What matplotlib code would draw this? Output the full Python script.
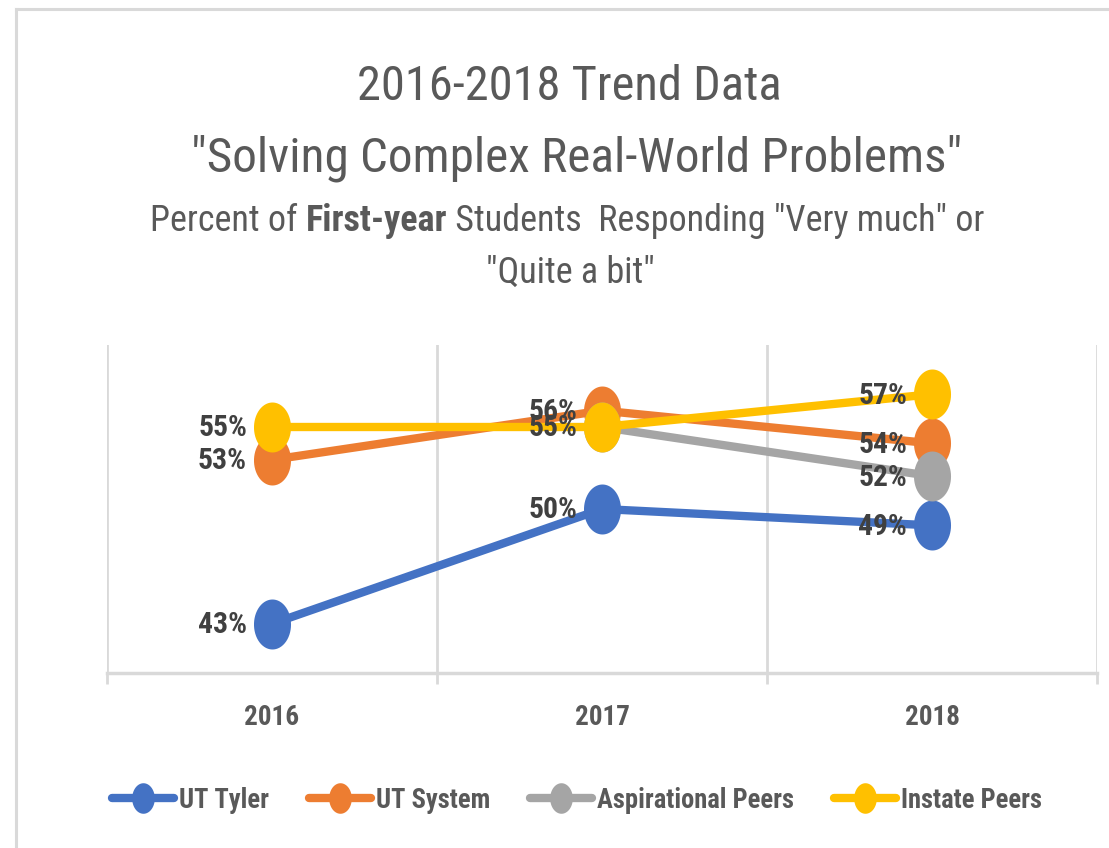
import numpy as np
import matplotlib
matplotlib.use("Agg")
import matplotlib.pyplot as plt
from matplotlib import font_manager as fm
from matplotlib.path import Path
from matplotlib.lines import Line2D


def pick_font():
    # the chart uses a narrow Calibri look; take a condensed face if there is one
    names = {f.name for f in fm.fontManager.ttflist}
    for p in ['Liberation Sans Narrow', 'Roboto Condensed', 'Open Sans Condensed',
              'Noto Sans Condensed', 'DejaVu Sans Condensed']:
        if p in names:
            return p, 'normal'
    for f in fm.fontManager.ttflist:
        if f.stretch in ('condensed', 'semi-condensed') and f.name in (
                'Noto Sans', 'Open Sans', 'Roboto', 'DejaVu Sans', 'Lato'):
            return f.name, f.stretch
    return 'Lato', 'normal'


font_name, font_stretch = pick_font()
FONT = [font_name, 'DejaVu Sans']
plt.rcParams['font.family'] = FONT
plt.rcParams['font.stretch'] = font_stretch

years = ['2016', '2017', '2018']
series_names = ['UT Tyler', 'UT System', 'Aspirational Peers', 'Instate Peers']
ut_tyler = [0.43, 0.50, 0.49]
ut_system = [0.53, 0.56, 0.54]
aspirational = [np.nan, 0.55, 0.52]
instate = [0.55, 0.55, 0.57]
colors = ['#4472C4', '#ED7D31', '#A5A5A5', '#FFC000']

# tall ellipse marker (chart was squeezed horizontally)
t = np.linspace(0, 2 * np.pi, 60)
ellipse = Path(np.column_stack([np.cos(t), 1.35 * np.sin(t)]), closed=True)

fig = plt.figure(figsize=(11.09, 8.48), dpi=100)
W, H = 1109, 848
r = fig.canvas.get_renderer()


def fit_size(s, target_px, weight='normal', nominal=20):
    # font size that gives the text the width it has in the picture
    tmp = fig.text(0, 0, s, fontsize=nominal, fontweight=weight)
    w = tmp.get_window_extent(r).width
    tmp.remove()
    return nominal * target_px / w


lab_size = fit_size('55%', 49, 'bold')
tick_size = fit_size('2016', 55, 'bold')
leg_size = fit_size('UT Tyler', 90, 'bold')
t1_size = fit_size('2016-2018 Trend Data', 424)
t2_size = fit_size('"Solving Complex Real-World Problems"', 770)

ax = fig.add_axes([107 / W, 1 - 673 / H, (1097 - 107) / W, (673 - 345) / H])

x = np.arange(len(years))
all_series = [ut_tyler, ut_system, aspirational, instate]
for vals, col in zip(all_series, colors):
    ax.plot(x, vals, color=col, linewidth=6, marker=ellipse, markersize=36,
            markeredgewidth=0, solid_capstyle='round', zorder=3)

shown = set()
for vals, col in zip(all_series, colors):
    for xi, v in zip(x, vals):
        if np.isnan(v) or (xi, v) in shown:
            continue
        shown.add((xi, v))
        ax.annotate('{:.0%}'.format(v), (xi, v), xytext=(-18, -1),
                    textcoords='offset points', ha='right', va='center',
                    fontsize=lab_size, fontweight='bold', color='#404040', zorder=5)

ax.set_xlim(-0.5, 2.5)
ax.set_ylim(0.40, 0.60)
ax.set_xticks([-0.5, 0.5, 1.5, 2.5])
ax.set_xticklabels([])
ax.set_xticks(x, minor=True)
ax.set_xticklabels(years, minor=True)
ax.tick_params(axis='x', which='major', length=8, width=2, color='#d9d9d9')
ax.tick_params(axis='x', which='minor', length=0, pad=22, labelsize=tick_size,
               labelcolor='#595959')
for lab in ax.get_xticklabels(minor=True):
    lab.set_fontweight('bold')
ax.set_yticks([])
ax.grid(axis='x', which='major', color='#d9d9d9', linewidth=2)
for s in ['top', 'right', 'left']:
    ax.spines[s].set_visible(False)
ax.spines['bottom'].set_color('#d9d9d9')
ax.spines['bottom'].set_linewidth(2.5)

# titles
tc = '#595959'
fig.text(569 / W, 1 - 100 / H, '2016-2018 Trend Data', ha='center', va='baseline',
         fontsize=t1_size, color=tc)
fig.text(577 / W, 1 - 172 / H, '"Solving Complex Real-World Problems"', ha='center',
         va='baseline', fontsize=t2_size, color=tc)

pieces = [('Percent of ', 'normal'), ('First-year', 'bold'),
          (' Students  Responding "Very much" or', 'normal')]
texts = [fig.text(0, 1 - 231 / H, p, ha='left', va='baseline', fontsize=26,
                  color=tc, fontweight=w) for p, w in pieces]
widths = [tx.get_window_extent(r).width for tx in texts]
k = 835 / sum(widths)
sub_size = 26 * k
for tx in texts:
    tx.set_fontsize(sub_size)
widths = [tx.get_window_extent(r).width for tx in texts]
xpos = 567 - sum(widths) / 2
for tx, wd in zip(texts, widths):
    tx.set_x(xpos / W)
    xpos += wd
fig.text(570 / W, 1 - 283 / H, '"Quite a bit"', ha='center', va='baseline',
         fontsize=sub_size, color=tc)

# legend
px = leg_size * 100 / 72
handles = [Line2D([], [], color=c, linewidth=6, marker=ellipse, markersize=22,
                  markeredgewidth=0, solid_capstyle='round') for c in colors]
leg = fig.legend(handles, series_names, loc='center', ncol=4,
                 bbox_to_anchor=(577 / W, 1 - 800 / H), frameon=False,
                 handlelength=62 / px, handletextpad=5 / px, columnspacing=40 / px,
                 prop={'size': leg_size, 'weight': 'bold'})
for tx in leg.get_texts():
    tx.set_color('#595959')

# chart border (top and left edges visible)
fig.add_artist(Line2D([16 / W, 1], [1 - 8.5 / H, 1 - 8.5 / H], color='#d9d9d9',
                      linewidth=2.2, transform=fig.transFigure))
fig.add_artist(Line2D([16 / W, 16 / W], [0, 1 - 8.5 / H], color='#d9d9d9',
                      linewidth=2.2, transform=fig.transFigure))

fig.savefig('out.png', dpi=100)
